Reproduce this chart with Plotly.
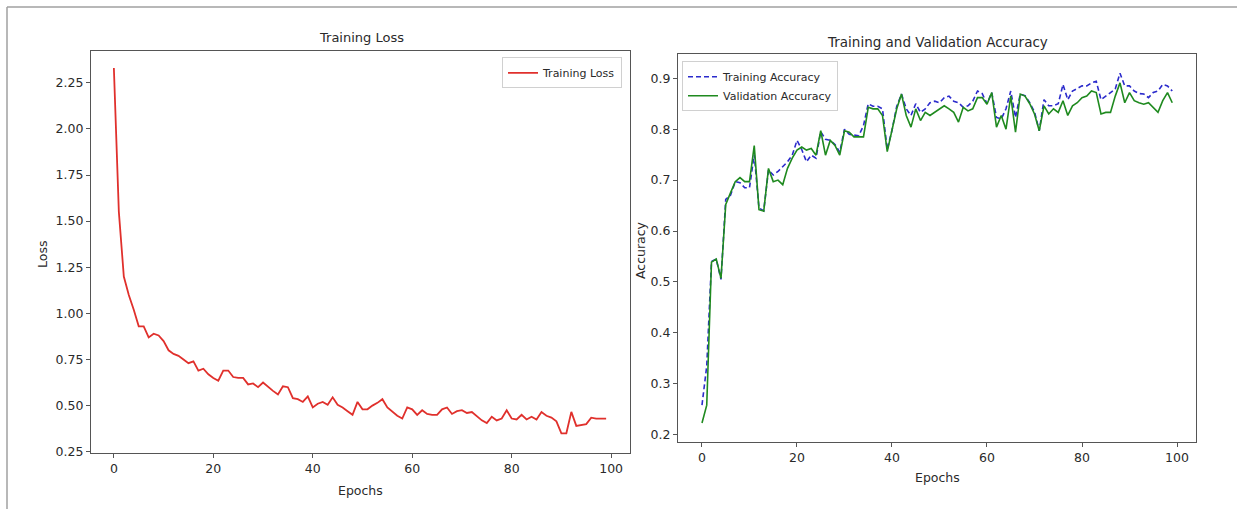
import plotly.graph_objects as go

W, H = 1237, 515

epochs = list(range(100))

training_loss = [
    2.33, 1.55, 1.20, 1.10, 1.02, 0.93, 0.93, 0.87, 0.89, 0.88,
    0.85, 0.80, 0.78, 0.77, 0.75, 0.73, 0.74, 0.69, 0.70, 0.67,
    0.65, 0.635, 0.69, 0.69, 0.655, 0.65, 0.65, 0.615, 0.62, 0.60,
    0.625, 0.60, 0.58, 0.56, 0.605, 0.60, 0.54, 0.535, 0.52, 0.55,
    0.49, 0.51, 0.52, 0.505, 0.545, 0.505, 0.49, 0.47, 0.45, 0.52,
    0.48, 0.48, 0.50, 0.515, 0.535, 0.49, 0.465, 0.445, 0.43, 0.49,
    0.48, 0.45, 0.475, 0.455, 0.45, 0.45, 0.48, 0.49, 0.455, 0.47,
    0.475, 0.46, 0.465, 0.44, 0.42, 0.405, 0.44, 0.42, 0.43, 0.475,
    0.43, 0.425, 0.45, 0.425, 0.44, 0.425, 0.465, 0.445, 0.435, 0.415,
    0.35, 0.35, 0.466, 0.39, 0.395, 0.40, 0.435, 0.43, 0.43, 0.43,
]

training_accuracy = [
    0.258, 0.335, 0.540, 0.545, 0.505, 0.662, 0.670, 0.697, 0.695, 0.685,
    0.685, 0.750, 0.645, 0.640, 0.720, 0.710, 0.717, 0.726, 0.736, 0.749,
    0.778, 0.760, 0.736, 0.749, 0.743, 0.795, 0.780, 0.778, 0.770, 0.755,
    0.800, 0.790, 0.788, 0.787, 0.807, 0.850, 0.845, 0.845, 0.840, 0.760,
    0.798, 0.845, 0.869, 0.840, 0.827, 0.850, 0.833, 0.840, 0.852, 0.855,
    0.852, 0.862, 0.865, 0.855, 0.852, 0.843, 0.846, 0.855, 0.875, 0.870,
    0.850, 0.872, 0.823, 0.820, 0.840, 0.875, 0.823, 0.869, 0.866, 0.852,
    0.834, 0.797, 0.858, 0.846, 0.846, 0.850, 0.888, 0.858, 0.875, 0.880,
    0.885, 0.885, 0.891, 0.894, 0.858, 0.865, 0.872, 0.879, 0.910, 0.885,
    0.885, 0.875, 0.870, 0.869, 0.862, 0.872, 0.875, 0.888, 0.885, 0.875,
]

validation_accuracy = [
    0.223, 0.258, 0.539, 0.545, 0.507, 0.652, 0.675, 0.697, 0.705, 0.697,
    0.697, 0.768, 0.642, 0.639, 0.723, 0.697, 0.700, 0.691, 0.723, 0.743,
    0.759, 0.765, 0.759, 0.762, 0.749, 0.797, 0.749, 0.778, 0.768, 0.749,
    0.797, 0.794, 0.785, 0.785, 0.785, 0.843, 0.840, 0.840, 0.827, 0.756,
    0.800, 0.840, 0.869, 0.827, 0.804, 0.840, 0.817, 0.833, 0.827, 0.833,
    0.840, 0.846, 0.840, 0.833, 0.814, 0.843, 0.836, 0.840, 0.862, 0.862,
    0.849, 0.872, 0.804, 0.827, 0.800, 0.865, 0.794, 0.869, 0.865, 0.850,
    0.830, 0.797, 0.846, 0.830, 0.840, 0.833, 0.856, 0.827, 0.846, 0.852,
    0.862, 0.865, 0.875, 0.872, 0.830, 0.833, 0.833, 0.865, 0.891, 0.852,
    0.872, 0.856, 0.852, 0.849, 0.852, 0.843, 0.833, 0.856, 0.872, 0.852,
]

x_ticks = [0, 20, 40, 60, 80, 100]
loss_ticks = [0.25, 0.50, 0.75, 1.00, 1.25, 1.50, 1.75, 2.00, 2.25]
acc_ticks = [0.2, 0.3, 0.4, 0.5, 0.6, 0.7, 0.8, 0.9]

FONT = "DejaVu Sans"
TXT = "#2a2a2a"
SPINE = "#555555"


def px(x):
    return x / W


def py(y):
    return 1 - y / H


fig = go.Figure()

fig.add_trace(go.Scatter(
    x=epochs, y=training_loss, mode="lines", name="Training Loss",
    line=dict(color="#e0302c", width=1.8),
    xaxis="x", yaxis="y", legend="legend",
))
fig.add_trace(go.Scatter(
    x=epochs, y=training_accuracy, mode="lines", name="Training Accuracy",
    line=dict(color="#2b2bcc", width=1.6, dash="5px,3px"),
    xaxis="x2", yaxis="y2", legend="legend2",
))
fig.add_trace(go.Scatter(
    x=epochs, y=validation_accuracy, mode="lines", name="Validation Accuracy",
    line=dict(color="#1f8a1f", width=1.6),
    xaxis="x2", yaxis="y2", legend="legend2",
))

axis_common = dict(
    showgrid=False, zeroline=False, showline=True, mirror=True,
    linecolor=SPINE, linewidth=1.3, ticks="outside", ticklen=4,
    tickcolor=SPINE, tickwidth=1,
    tickfont=dict(family=FONT, size=12.5, color=TXT),
)

fig.update_layout(
    width=W, height=H,
    margin=dict(l=0, r=0, t=0, b=0),
    paper_bgcolor="white", plot_bgcolor="white",
    xaxis=dict(domain=[px(91), px(630)], range=[-4.6, 103.8],
               tickvals=x_ticks, anchor="y", **axis_common),
    yaxis=dict(domain=[py(458), py(52)], range=[0.245, 2.42],
               tickvals=loss_ticks, ticktext=[f"{v:.2f}" for v in loss_ticks],
               anchor="x", **axis_common),
    xaxis2=dict(domain=[px(678), px(1196)], range=[-5.05, 104.0],
                tickvals=x_ticks, anchor="y2", **axis_common),
    yaxis2=dict(domain=[py(447), py(55)], range=[0.186, 0.947],
                tickvals=acc_ticks, ticktext=[f"{v:.1f}" for v in acc_ticks],
                anchor="x2", **axis_common),
    legend=dict(x=px(502), y=py(58), xanchor="left", yanchor="top",
                bgcolor="rgba(255,255,255,0.9)", bordercolor="#d0d0d0",
                borderwidth=1, font=dict(family=FONT, size=11, color=TXT)),
    legend2=dict(x=px(682), y=py(62), xanchor="left", yanchor="top",
                 bgcolor="rgba(255,255,255,0.9)", bordercolor="#d0d0d0",
                 borderwidth=1, font=dict(family=FONT, size=11, color=TXT),
                 tracegroupgap=0),
    showlegend=True,
)

annotations = [
    dict(text="Training Loss", x=px(361), y=py(38), size=13, angle=0),
    dict(text="Training and Validation Accuracy", x=px(937), y=py(42), size=13.5, angle=0),
    dict(text="Epochs", x=px(360), y=py(496), size=12.5, angle=0),
    dict(text="Epochs", x=px(937), y=py(483), size=12.5, angle=0),
    dict(text="Loss", x=px(43), y=py(258), size=12.5, angle=-90),
    dict(text="Accuracy", x=px(640), y=py(253), size=12.5, angle=-90),
]
for a in annotations:
    fig.add_annotation(
        text=a["text"], x=a["x"], y=a["y"], xref="paper", yref="paper",
        xanchor="center", yanchor="middle", showarrow=False,
        textangle=a["angle"], font=dict(family=FONT, size=a["size"], color=TXT),
    )

# image frame (top and left edges)
fig.add_shape(type="line", xref="paper", yref="paper",
              x0=px(7), y0=py(7), x1=1, y1=py(7),
              line=dict(color="#a0a0a0", width=1.5))
fig.add_shape(type="line", xref="paper", yref="paper",
              x0=px(7), y0=0, x1=px(7), y1=py(7),
              line=dict(color="#a0a0a0", width=1.5))

fig.write_html(
    "out.html",
    config={"displayModeBar": False},
    post_script="document.body.style.margin='0';document.body.style.overflow='hidden';",
)
